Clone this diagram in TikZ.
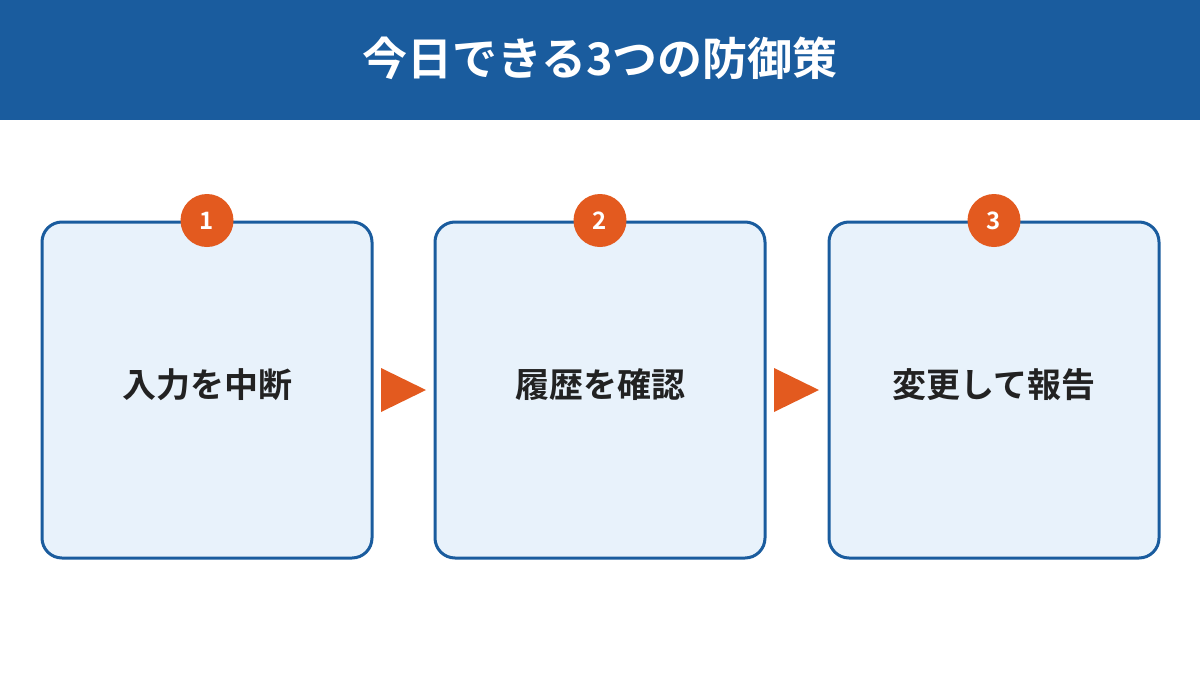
\documentclass[tikz,border=0pt]{standalone}
\usepackage{fontspec}
\newfontfamily\cjk{Noto Sans CJK JP}[BoldFont={* Bold}]
\usetikzlibrary{positioning}
\definecolor{bandblue}{HTML}{1A5C9E}
\definecolor{boxfill}{HTML}{E8F2FB}
\definecolor{stepred}{HTML}{E35A1F}
\definecolor{inktext}{HTML}{222222}
\tikzset{
  step box/.style={draw=bandblue, line width=3pt, fill=boxfill, rounded corners=20pt,
    minimum width=330pt, minimum height=336pt, inner sep=0pt},
  step num/.style={circle, fill=stepred, minimum size=53pt, inner sep=0pt,
    text=white, font=\cjk\bfseries\fontsize{24}{24}\selectfont},
  step text/.style={text=inktext, font=\cjk\bfseries\fontsize{34}{34}\selectfont},
  step arrow/.style={fill=stepred}
}
\begin{document}
\begin{tikzpicture}[x=1pt,y=-1pt]
  \useasboundingbox (0,0) rectangle (1200,675);
  % title band
  \fill[bandblue] (0,0) rectangle (1200,120);
  \node[text=white, font=\cjk\bfseries\fontsize{45}{45}\selectfont] (title) at (600,58) {今日できる3つの防御策};

  % three steps
  \node[step box] (box1) at (207,390) {};
  \node[step box] (box2) at (600,390) {};
  \node[step box] (box3) at (994,390) {};
  \node[step text] (txt1) at (207,385) {入力を中断};
  \node[step text] (txt2) at (600,385) {履歴を確認};
  \node[step text] (txt3) at (994,385) {変更して報告};
  \foreach \i in {1,2,3}
    \node[step num] (num\i) at (box\i.north) {\i};

  % arrows between boxes
  \fill[step arrow] (381,368) -- (426,390) -- (381,412) -- cycle;
  \fill[step arrow] (774,368) -- (819,390) -- (774,412) -- cycle;
\end{tikzpicture}
\end{document}
